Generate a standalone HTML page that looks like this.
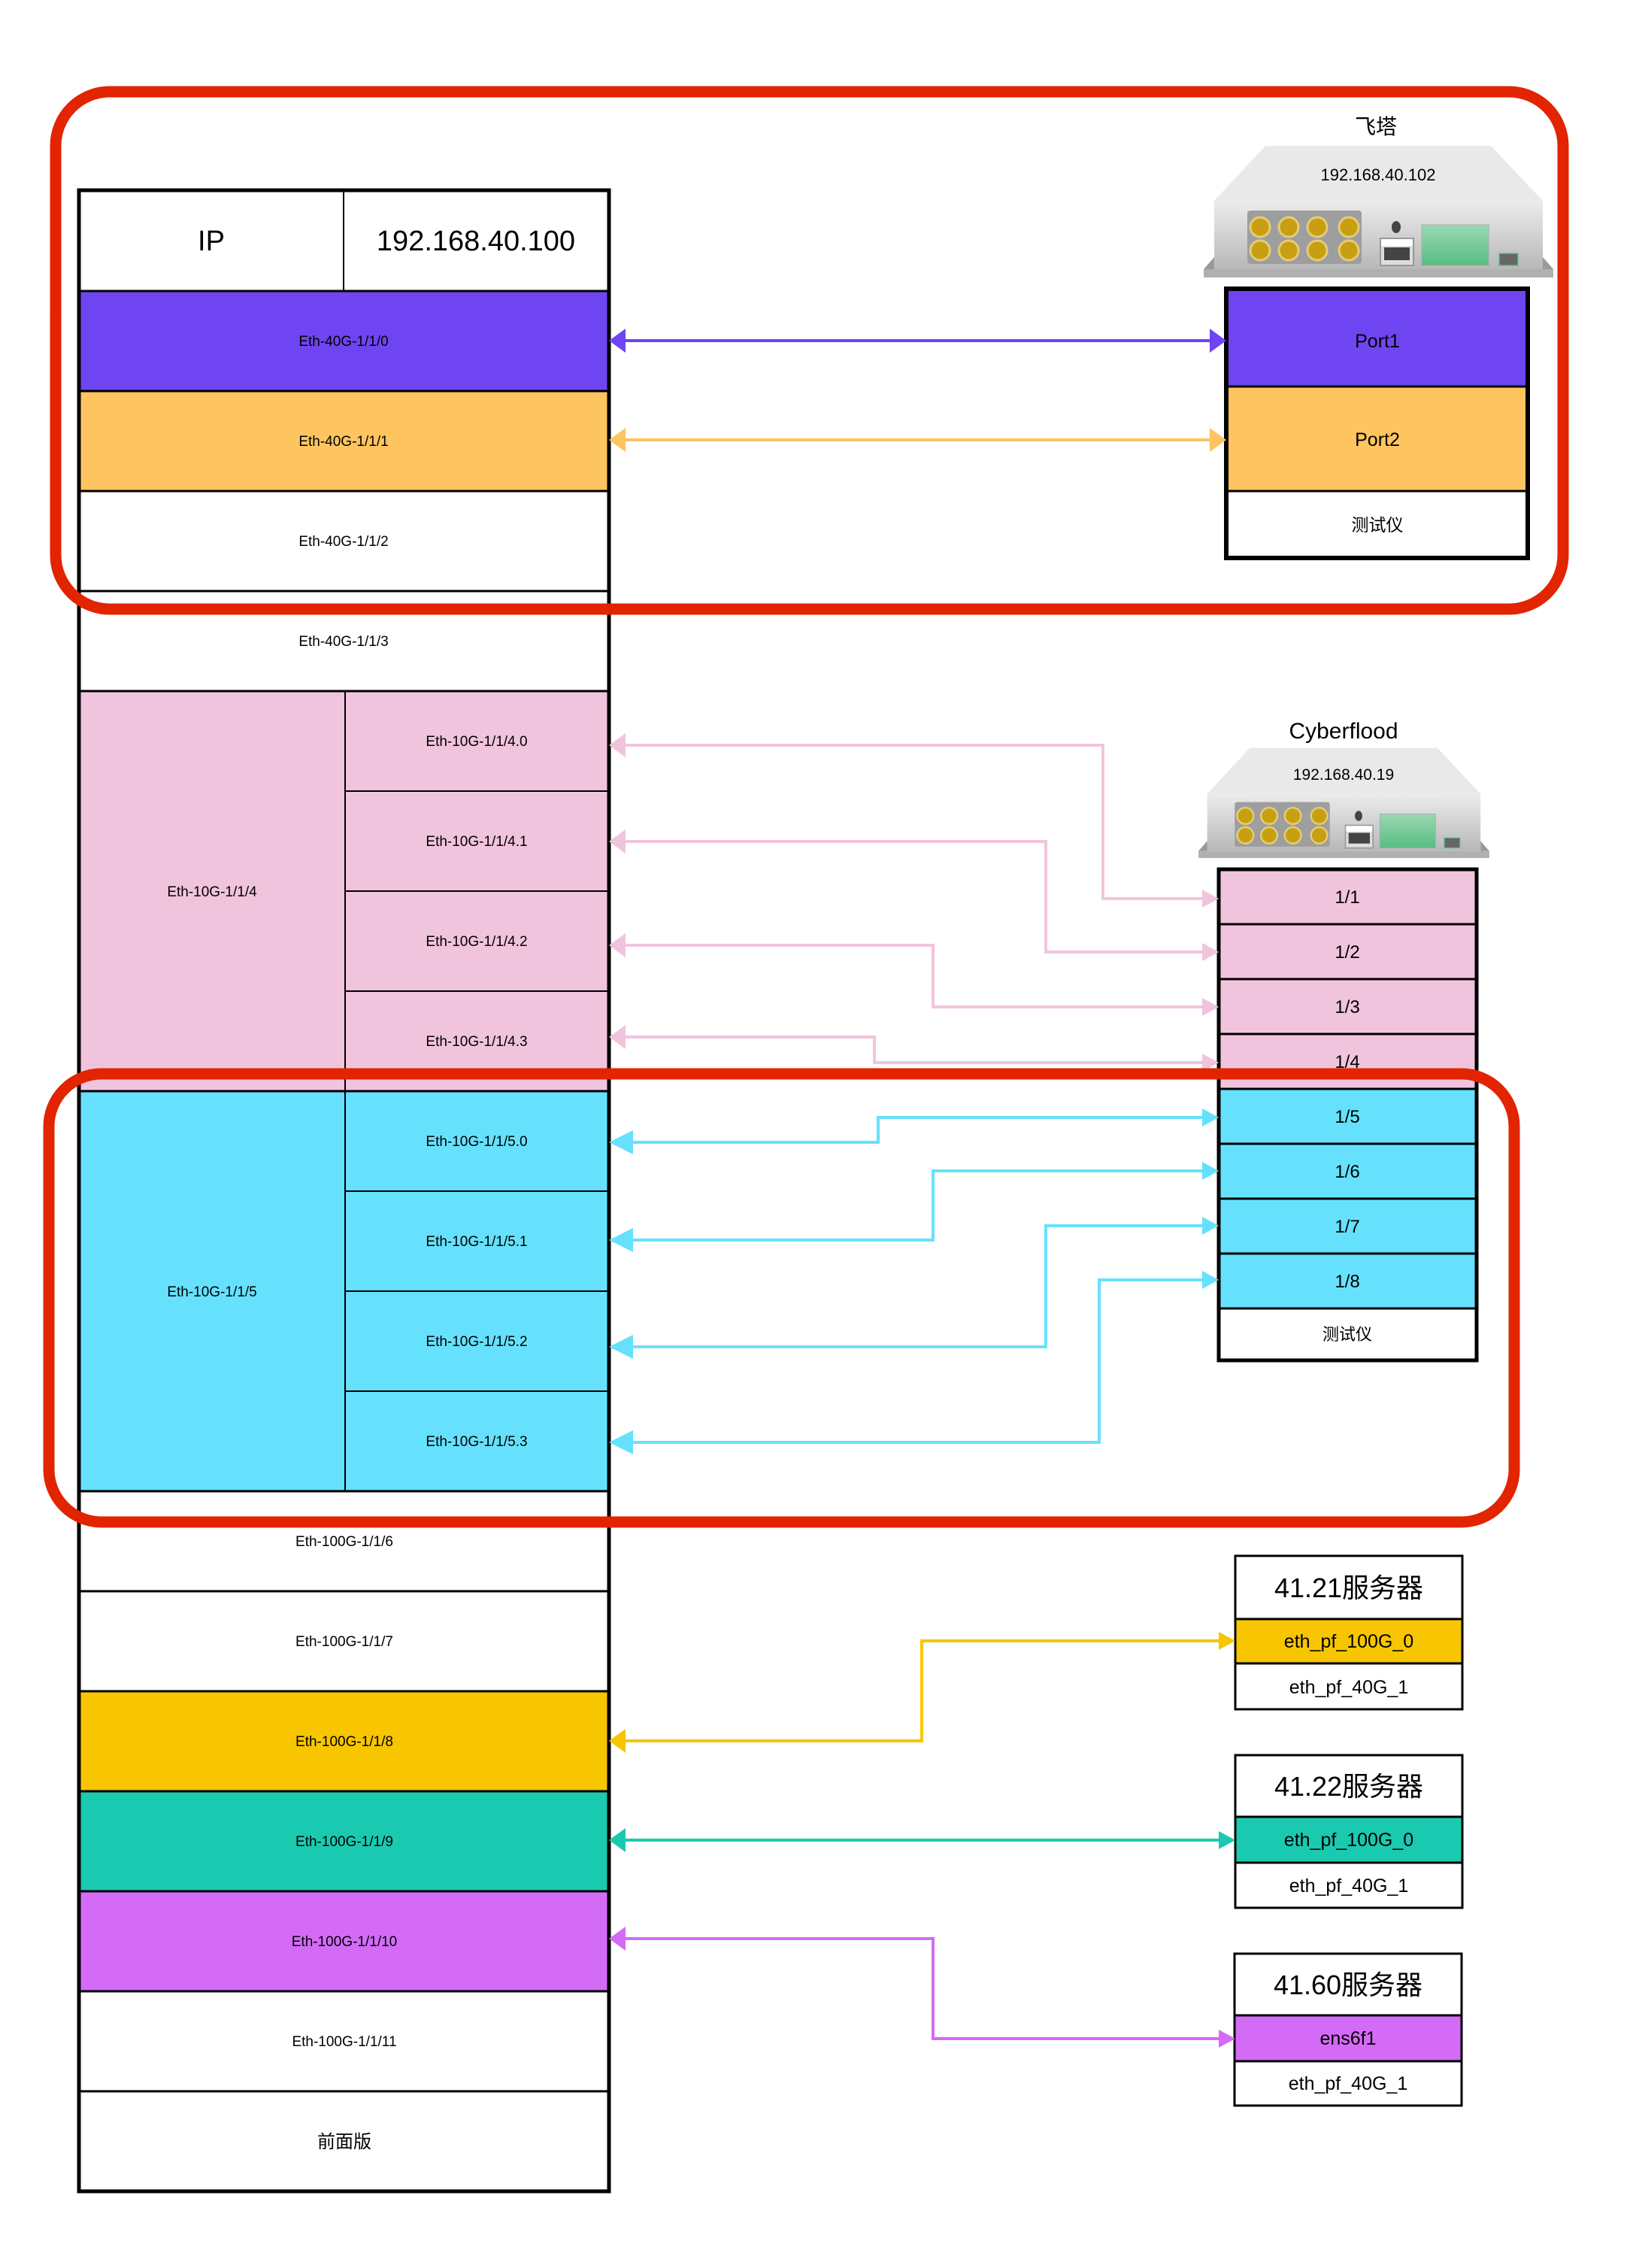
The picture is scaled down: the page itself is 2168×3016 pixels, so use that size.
<!DOCTYPE html>
<html><head><meta charset="utf-8"><style>
html,body{margin:0;padding:0;background:#fff;}
svg{display:block;}
text{font-family:"Liberation Sans","Noto Sans CJK SC",sans-serif;fill:#000;}
</style></head><body>
<svg width="2168" height="3016" viewBox="0 0 2168 3016" xmlns="http://www.w3.org/2000/svg">
<defs>
<linearGradient id="fg" x1="0" y1="0" x2="0" y2="1"><stop offset="0" stop-color="#ececec"/><stop offset="1" stop-color="#b8b8b8"/></linearGradient>
<linearGradient id="gg" x1="0" y1="0" x2="0" y2="1"><stop offset="0" stop-color="#9ad8b2"/><stop offset="1" stop-color="#58bd82"/></linearGradient>
<g id="dev">
<polygon points="82,2 382,2 451,75 14,75" fill="#e9e9e9"/>
<rect x="14" y="75" width="437" height="91" fill="url(#fg)"/>
<polygon points="0,166 14,150 14,166" fill="#999"/>
<polygon points="465,166 451,150 451,166" fill="#999"/>
<rect x="0" y="166" width="465" height="11" fill="#b0b0b0"/>
<rect x="58" y="88" width="152" height="71" rx="4" fill="#9e9e9e"/>
<g fill="#c89f10" stroke="#e3cc7a" stroke-width="3">
<circle cx="75" cy="110" r="13"/><circle cx="113" cy="110" r="13"/><circle cx="151" cy="110" r="13"/><circle cx="193" cy="110" r="13"/>
<circle cx="75" cy="141" r="13"/><circle cx="113" cy="141" r="13"/><circle cx="151" cy="141" r="13"/><circle cx="193" cy="141" r="13"/>
</g>
<ellipse cx="256" cy="110" rx="6" ry="8" fill="#444"/>
<rect x="235" y="125" width="44" height="36" fill="#ddd" stroke="#999" stroke-width="2"/>
<rect x="236" y="126" width="42" height="9" fill="#fff"/>
<rect x="240" y="137" width="34" height="17" fill="#444"/>
<rect x="290" y="107" width="89" height="54" fill="url(#gg)" stroke="#aaa" stroke-width="1"/>
<rect x="393" y="145" width="25" height="16" fill="#666" stroke="#5cbf85" stroke-width="1.5"/>
</g>
</defs>

<g stroke="#000">
<rect x="105" y="253" width="705" height="134" fill="#fff" stroke-width="3"/>
<line x1="457" y1="253" x2="457" y2="387" stroke-width="2"/>
<rect x="105" y="387" width="705" height="133" fill="#6F45F1" stroke-width="3"/>
<rect x="105" y="520" width="705" height="133" fill="#FDC45F" stroke-width="3"/>
<rect x="105" y="653" width="705" height="133" fill="#fff" stroke-width="3"/>
<rect x="105" y="786" width="705" height="133" fill="#fff" stroke-width="3"/>
<rect x="105" y="919" width="705" height="532" fill="#F1C4DD" stroke-width="3"/>
<line x1="459" y1="919" x2="459" y2="1451" stroke-width="2"/>
<line x1="459" y1="1052" x2="810" y2="1052" stroke-width="2"/>
<line x1="459" y1="1185" x2="810" y2="1185" stroke-width="2"/>
<line x1="459" y1="1318" x2="810" y2="1318" stroke-width="2"/>
<rect x="105" y="1451" width="705" height="532" fill="#66E1FD" stroke-width="3"/>
<line x1="459" y1="1451" x2="459" y2="1983" stroke-width="2"/>
<line x1="459" y1="1584" x2="810" y2="1584" stroke-width="2"/>
<line x1="459" y1="1717" x2="810" y2="1717" stroke-width="2"/>
<line x1="459" y1="1850" x2="810" y2="1850" stroke-width="2"/>
<rect x="105" y="1983" width="705" height="133" fill="#fff" stroke-width="3"/>
<rect x="105" y="2116" width="705" height="133" fill="#fff" stroke-width="3"/>
<rect x="105" y="2249" width="705" height="133" fill="#F7C600" stroke-width="3"/>
<rect x="105" y="2382" width="705" height="133" fill="#1ACAB0" stroke-width="3"/>
<rect x="105" y="2515" width="705" height="133" fill="#D46BF7" stroke-width="3"/>
<rect x="105" y="2648" width="705" height="133" fill="#fff" stroke-width="3"/>
<rect x="105" y="2781" width="705" height="133" fill="#fff" stroke-width="3"/>
<rect x="105" y="253" width="705" height="2661" fill="none" stroke-width="5"/>
</g>
<g font-size="19" text-anchor="middle">
<text x="281" y="333" font-size="38">IP</text>
<text x="633" y="333" font-size="38">192.168.40.100</text>
<text x="457" y="460">Eth-40G-1/1/0</text>
<text x="457" y="593">Eth-40G-1/1/1</text>
<text x="457" y="726">Eth-40G-1/1/2</text>
<text x="457" y="859">Eth-40G-1/1/3</text>
<text x="282" y="1192">Eth-10G-1/1/4</text>
<text x="634" y="992">Eth-10G-1/1/4.0</text>
<text x="634" y="1125">Eth-10G-1/1/4.1</text>
<text x="634" y="1258">Eth-10G-1/1/4.2</text>
<text x="634" y="1391">Eth-10G-1/1/4.3</text>
<text x="282" y="1724">Eth-10G-1/1/5</text>
<text x="634" y="1524">Eth-10G-1/1/5.0</text>
<text x="634" y="1657">Eth-10G-1/1/5.1</text>
<text x="634" y="1790">Eth-10G-1/1/5.2</text>
<text x="634" y="1923">Eth-10G-1/1/5.3</text>
<text x="458" y="2056">Eth-100G-1/1/6</text>
<text x="458" y="2189">Eth-100G-1/1/7</text>
<text x="458" y="2322">Eth-100G-1/1/8</text>
<text x="458" y="2455">Eth-100G-1/1/9</text>
<text x="458" y="2588">Eth-100G-1/1/10</text>
<text x="458" y="2721">Eth-100G-1/1/11</text>
<text x="458" y="2856" font-size="24">前面版</text>
</g>

<text x="1830" y="178" font-size="28" text-anchor="middle">飞塔</text>
<use href="#dev" transform="translate(1601,192)"/>
<text x="1833" y="240" font-size="22" text-anchor="middle">192.168.40.102</text>
<g stroke="#000">
<rect x="1631" y="384" width="401" height="130" fill="#6F45F1" stroke-width="3"/>
<rect x="1631" y="514" width="401" height="139" fill="#FDC45F" stroke-width="3"/>
<rect x="1631" y="653" width="401" height="89" fill="#fff" stroke-width="3"/>
<rect x="1631" y="384" width="401" height="358" fill="none" stroke-width="6"/>
</g>
<g font-size="25" text-anchor="middle">
<text x="1832" y="462">Port1</text>
<text x="1832" y="593">Port2</text>
<text x="1832" y="706" font-size="23">测试仪</text>
</g>

<text x="1787" y="982" font-size="30" text-anchor="middle">Cyberflood</text>
<use href="#dev" transform="translate(1594,993) scale(0.832,0.836)"/>
<text x="1787" y="1037" font-size="21" text-anchor="middle">192.168.40.19</text>
<g stroke="#000" stroke-width="3">
<rect x="1621" y="1156" width="343" height="73" fill="#F1C4DD"/>
<rect x="1621" y="1229" width="343" height="73" fill="#F1C4DD"/>
<rect x="1621" y="1302" width="343" height="73" fill="#F1C4DD"/>
<rect x="1621" y="1375" width="343" height="73" fill="#F1C4DD"/>
<rect x="1621" y="1448" width="343" height="73" fill="#66E1FD"/>
<rect x="1621" y="1521" width="343" height="73" fill="#66E1FD"/>
<rect x="1621" y="1594" width="343" height="73" fill="#66E1FD"/>
<rect x="1621" y="1667" width="343" height="73" fill="#66E1FD"/>
<rect x="1621" y="1740" width="343" height="69" fill="#fff"/>
<rect x="1621" y="1156" width="343" height="653" fill="none" stroke-width="5"/>
</g>
<g font-size="24" text-anchor="middle">
<text x="1792" y="1201">1/1</text>
<text x="1792" y="1274">1/2</text>
<text x="1792" y="1347">1/3</text>
<text x="1792" y="1420">1/4</text>
<text x="1792" y="1493">1/5</text>
<text x="1792" y="1566">1/6</text>
<text x="1792" y="1639">1/7</text>
<text x="1792" y="1712">1/8</text>
<text x="1792" y="1782" font-size="22">测试仪</text>
</g>

<g stroke="#000" stroke-width="3">
<rect x="1643" y="2069" width="302" height="84" fill="#fff"/>
<rect x="1643" y="2153" width="302" height="59" fill="#F7C600"/>
<rect x="1643" y="2212" width="302" height="61" fill="#fff"/>
<rect x="1643" y="2334" width="302" height="82" fill="#fff"/>
<rect x="1643" y="2416" width="302" height="61" fill="#1ACAB0"/>
<rect x="1643" y="2477" width="302" height="60" fill="#fff"/>
<rect x="1642" y="2598" width="302" height="82" fill="#fff"/>
<rect x="1642" y="2680" width="302" height="61" fill="#D46BF7"/>
<rect x="1642" y="2741" width="302" height="59" fill="#fff"/>
</g>
<g font-size="25" text-anchor="middle">
<text x="1794" y="2124" font-size="36">41.21服务器</text>
<text x="1794" y="2191">eth_pf_100G_0</text>
<text x="1794" y="2252">eth_pf_40G_1</text>
<text x="1794" y="2388" font-size="36">41.22服务器</text>
<text x="1794" y="2455">eth_pf_100G_0</text>
<text x="1794" y="2516">eth_pf_40G_1</text>
<text x="1793" y="2652" font-size="36">41.60服务器</text>
<text x="1793" y="2719">ens6f1</text>
<text x="1793" y="2779">eth_pf_40G_1</text>
</g>

<g fill="none" stroke-width="4">
<path d="M830,453 H1609" stroke="#6F45F1"/>
<path d="M830,585 H1609" stroke="#FDC45F"/>
<path d="M830,991 H1467 V1195 H1600" stroke="#F1C4DD"/>
<path d="M830,1119 H1391 V1266 H1600" stroke="#F1C4DD"/>
<path d="M830,1257 H1241 V1339 H1600" stroke="#F1C4DD"/>
<path d="M830,1379 H1163 V1413 H1600" stroke="#F1C4DD"/>
<path d="M830,1519 H1168 V1486 H1600" stroke="#66E1FD"/>
<path d="M830,1649 H1241 V1557 H1600" stroke="#66E1FD"/>
<path d="M830,1791 H1391 V1630 H1600" stroke="#66E1FD"/>
<path d="M830,1918 H1462 V1702 H1600" stroke="#66E1FD"/>
<path d="M830,2315 H1226 V2182 H1622" stroke="#F7C600"/>
<path d="M830,2447 H1622" stroke="#1ACAB0"/>
<path d="M830,2578 H1241 V2711 H1622" stroke="#D46BF7"/>
</g>
<g>
<polygon points="810,453 832,437 832,469" fill="#6F45F1"/><polygon points="1631,453 1609,437 1609,469" fill="#6F45F1"/>
<polygon points="810,585 832,569 832,601" fill="#FDC45F"/><polygon points="1631,585 1609,569 1609,601" fill="#FDC45F"/>
<polygon points="810,991 832,975 832,1007" fill="#F1C4DD"/><polygon points="1621,1195 1599,1183 1599,1207" fill="#F1C4DD"/>
<polygon points="810,1119 832,1103 832,1135" fill="#F1C4DD"/><polygon points="1621,1266 1599,1254 1599,1278" fill="#F1C4DD"/>
<polygon points="810,1257 832,1241 832,1273" fill="#F1C4DD"/><polygon points="1621,1339 1599,1327 1599,1351" fill="#F1C4DD"/>
<polygon points="810,1379 832,1363 832,1395" fill="#F1C4DD"/><polygon points="1621,1413 1599,1401 1599,1425" fill="#F1C4DD"/>
<polygon points="810,1519 842,1503 842,1535" fill="#66E1FD"/><polygon points="1621,1486 1599,1474 1599,1498" fill="#66E1FD"/>
<polygon points="810,1649 842,1633 842,1665" fill="#66E1FD"/><polygon points="1621,1557 1599,1545 1599,1569" fill="#66E1FD"/>
<polygon points="810,1791 842,1775 842,1807" fill="#66E1FD"/><polygon points="1621,1630 1599,1618 1599,1642" fill="#66E1FD"/>
<polygon points="810,1918 842,1902 842,1934" fill="#66E1FD"/><polygon points="1621,1702 1599,1690 1599,1714" fill="#66E1FD"/>
<polygon points="810,2315 832,2299 832,2331" fill="#F7C600"/><polygon points="1643,2182 1621,2170 1621,2194" fill="#F7C600"/>
<polygon points="810,2447 832,2431 832,2463" fill="#1ACAB0"/><polygon points="1643,2447 1621,2435 1621,2459" fill="#1ACAB0"/>
<polygon points="810,2578 832,2562 832,2594" fill="#D46BF7"/><polygon points="1643,2711 1621,2699 1621,2723" fill="#D46BF7"/>
</g>

<rect x="74" y="122" width="2005" height="688" rx="72" ry="72" fill="none" stroke="#E22400" stroke-width="15"/>
<rect x="65" y="1428" width="1949" height="596" rx="70" ry="70" fill="none" stroke="#E22400" stroke-width="15"/>
</svg>
</body></html>
